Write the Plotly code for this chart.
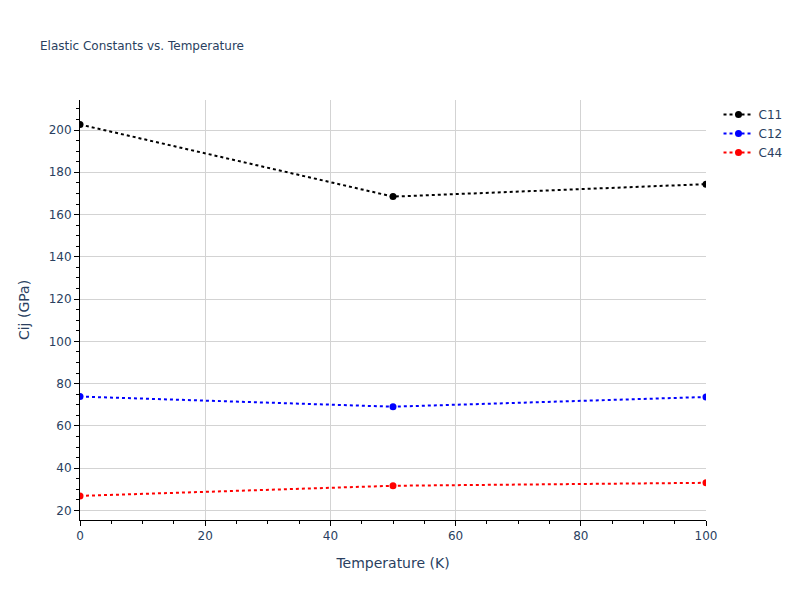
import plotly.graph_objects as go

temperature = [0, 50, 100]
c11 = [202.6, 168.5, 174.4]
c12 = [73.9, 69.1, 73.7]
c44 = [26.9, 31.7, 33.1]

series = [("C11", c11, "black"), ("C12", c12, "blue"), ("C44", c44, "red")]

fig = go.Figure()
for name, vals, color in series:
    fig.add_trace(go.Scatter(x=temperature, y=vals, mode="lines+markers", name=name,
                             line=dict(color=color, dash="dot", width=2),
                             marker=dict(color=color, size=7)))

axis_common = dict(showline=True, linecolor="black", linewidth=1, ticks="outside",
                   tickcolor="black", ticklen=5, showgrid=True, gridcolor="lightgrey",
                   zeroline=False, mirror=False,
                   minor=dict(ticks="outside", ticklen=3, tickcolor="black", dtick=5, showgrid=False))

fig.update_layout(
    template="plotly_white",
    width=800, height=600,
    font=dict(family="DejaVu Sans, Verdana, sans-serif"),
    title=dict(text="Elastic Constants vs. Temperature", font=dict(size=12)),
    xaxis=dict(title="Temperature (K)", range=[0, 100], **axis_common),
    yaxis=dict(title="Cij (GPa)", range=[15.5, 214.2], **axis_common),
    plot_bgcolor="white", paper_bgcolor="white",
)
fig.write_html("out.html", config={"displayModeBar": False},
               post_script="document.body.style.margin='0';")
